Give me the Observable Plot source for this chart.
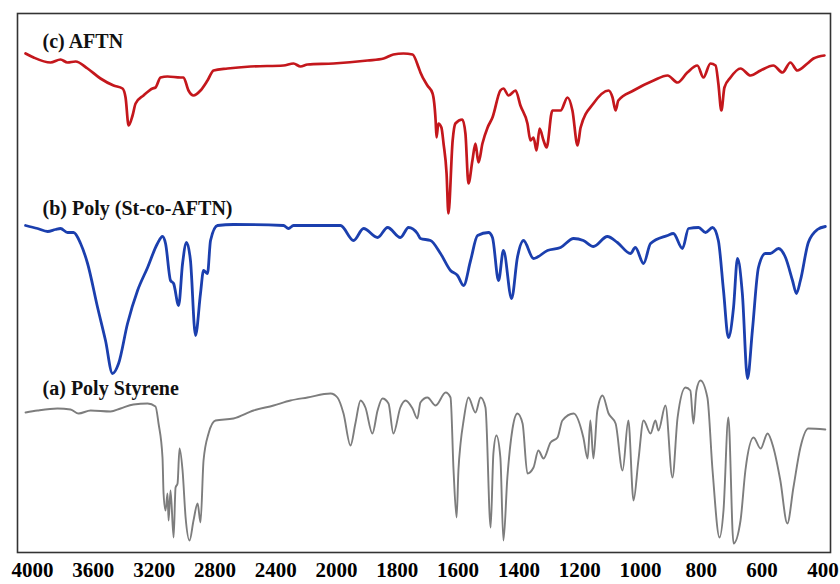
<!DOCTYPE html>
<html>
<head>
<meta charset="utf-8">
<script src="https://cdn.jsdelivr.net/npm/d3@7"></script>
<script src="https://cdn.jsdelivr.net/npm/@observablehq/plot@0.6"></script>
<style>
  html, body { margin: 0; padding: 0; background: #fff; }
  #chart svg { display: block; }
</style>
</head>
<body>
<div id="chart"></div>
<script>
// Tick labels (wavenumber, cm-1) – axis scale doubles below 2000
const xTicks = [4000, 3600, 3200, 2800, 2400, 2000, 1800, 1600, 1400, 1200, 1000, 800, 600, 400];
const seriesNames = ["(c) AFTN", "(b) Poly (St-co-AFTN)", "(a) Poly Styrene"];

// (c) AFTN – stacked transmittance (arbitrary units)
const wnC = [4046,3993,3882,3816,3770,3717,3638,3553,3467,3408,3388,3368,3342,3322,3270,3211,3191,3158,3112,3026,3007,2974,2941,2895,2849,2809,2717,2566,2349,2283,2237,2191,2020,
  1898,1845,1813,1780,1750,1730,1724,1701,1684,1674,1671,1665,1655,1648,1638,1632,1618,1609,1586,1576,1566,1553,1543,1533,1520,1503,1487,1461,1451,1434,1411,1395,1372,1362,1352,1342,1332,1319,1309,1290,1263,1240,1224,1207,1197,1155,1105,1092,1082,1073,1023,957,911,878,846,813,793,770,753,744,734,724,704,671,638,605,563,533,507,484,451,431,395];
const tC = [99.8,99.0,98.0,98.6,98.0,98.2,96.8,94.8,93.4,92.8,91.0,85.4,87.4,89.8,91.4,92.8,93.0,95.0,95.2,95.0,95.0,92.4,91.4,92.4,94.4,96.4,96.8,97.2,97.4,97.8,97.2,97.6,97.8,
  98.4,98.8,99.6,99.8,99.6,97.0,96.0,93.4,91.8,86.4,83.0,85.8,85.0,81.8,75.8,67.8,82.4,85.8,86.6,83.8,73.8,78.4,81.8,78.0,81.8,85.0,87.0,92.4,92.8,91.4,92.4,89.4,85.8,82.4,83.0,80.4,84.8,82.4,81.0,88.4,88.4,91.0,88.4,81.4,85.0,89.8,92.4,91.0,88.4,90.4,92.4,94.4,95.4,94.0,96.0,97.4,95.0,97.8,97.4,93.8,88.4,93.0,95.0,96.8,95.4,96.4,97.4,96.0,98.0,96.4,97.8,98.8,99.4];

// (b) Poly (St-co-AFTN)
const wnB = [4046,3967,3901,3849,3816,3770,3730,3684,3638,3572,3520,3474,3434,3375,3309,3243,3178,3145,3125,3092,3072,3039,3013,2987,2961,2928,2895,2875,2849,2829,2783,2678,2349,2316,2283,
  1987,1944,1911,1865,1832,1790,1763,1734,1724,1691,1658,1625,1602,1582,1559,1536,1500,1487,1467,1451,1424,1405,1385,1352,1306,1263,1220,1188,1155,1109,1076,1033,1017,990,967,911,892,862,842,809,786,763,744,727,711,694,681,665,648,632,612,589,573,546,523,500,487,474,448,418,392];
const tB = [65.4,64.8,64.2,64.6,64.8,64.0,64.0,61.8,57.8,49.0,42.4,35.8,37.8,45.8,52.4,57.0,61.8,63.2,61.8,54.4,53.8,49.4,57.8,62.0,58.4,43.4,51.8,56.4,55.8,62.4,65.4,65.6,65.4,64.8,65.4,
  65.4,62.4,64.8,63.0,65.0,63.0,65.0,63.8,62.8,62.4,59.8,56.4,55.4,53.4,58.4,63.4,64.0,63.0,54.4,60.4,50.8,59.0,62.4,58.8,60.4,61.0,62.8,62.4,61.2,63.2,62.0,59.8,61.0,57.8,61.8,63.4,63.8,60.8,64.8,65.0,64.0,65.0,62.4,52.4,43.0,49.0,58.8,51.8,34.8,44.4,57.0,59.8,59.8,60.8,59.0,54.4,51.8,54.4,62.0,64.6,65.2];

// (a) Poly Styrene
const wnA = [4046,3967,3836,3750,3697,3618,3487,3421,3336,3243,3191,3171,3145,3138,3125,3112,3105,3092,3072,3059,3046,3033,3013,2993,2967,2941,2914,2895,2875,2842,2796,2678,2546,2414,2303,2191,2039,
  1997,1977,1954,1938,1921,1905,1882,1865,1849,1829,1813,1790,1773,1750,1734,1724,1701,1674,1641,1625,1615,1605,1599,1592,1582,1566,1543,1526,1510,1493,1484,1474,1461,1451,1438,1421,1405,1388,1372,1352,1336,1319,1296,1273,1257,1220,1188,1174,1165,1155,1142,1125,1105,1082,1059,1040,1023,1007,990,967,951,941,918,895,878,852,836,826,816,803,780,763,740,727,711,694,671,655,628,605,582,563,540,517,497,474,448,392];
const tA = [28.0,28.4,28.8,28.6,27.8,28.4,28.2,28.8,29.6,29.8,29.2,25.8,19.0,11.8,8.4,11.8,6.4,12.4,3.0,13.0,13.8,20.8,16.4,7.0,2.4,6.4,9.8,6.0,18.4,23.8,26.4,26.8,28.4,29.4,30.4,31.0,31.8,
  31.0,27.8,21.4,25.8,30.4,29.0,23.8,28.4,30.8,29.8,23.8,29.0,30.4,28.8,26.8,30.0,31.0,29.4,32.0,31.0,16.4,7.0,16.4,21.8,26.4,31.0,28.0,31.0,29.0,5.0,19.8,23.4,19.0,2.4,15.0,24.8,27.8,25.8,15.8,17.0,20.4,18.8,22.0,23.0,26.4,27.8,23.0,18.8,26.4,18.8,28.4,31.4,27.8,25.8,16.4,26.4,10.4,18.4,26.4,23.8,26.4,24.4,29.4,15.0,27.0,33.0,32.4,25.8,32.4,34.4,31.0,16.4,3.0,8.4,27.0,1.8,6.4,16.4,23.0,20.8,23.8,21.0,14.4,5.8,13.0,21.0,24.8,24.6];

// Axis break: below 2000 cm-1 each unit is drawn twice as wide
const warp = w => (w >= 2000 ? w : 2 * w - 2000);
const unwarp = p => Math.round(p >= 2000 ? p : (p + 2000) / 2);

const toRows = (wn, t) => wn.map((w, i) => ({wn: w, t: t[i]}));
const rowsC = toRows(wnC, tC), rowsB = toRows(wnB, tB), rowsA = toRows(wnA, tA);

const lbl = (rows, name, dy) => Plot.text([rows[0]], {
  x: d => warp(d.wn), y: "t", text: () => name, textAnchor: "start", dx: 17, dy,
  fontSize: 20, fontWeight: "bold", fill: "#111"
});
const line = (rows, stroke, strokeWidth) => Plot.line(rows, {
  x: d => warp(d.wn), y: "t", stroke, strokeWidth, curve: "monotone-x"
});

const chart = Plot.plot({
  width: 840,
  height: 584,
  marginLeft: 17,
  marginRight: 10,
  marginTop: 13,
  marginBottom: 32,
  style: {fontFamily: "'Liberation Serif', 'Times New Roman', serif", background: "#fff"},
  x: {domain: [warp(4099), warp(375)]},
  y: {domain: [0, 107.8], axis: null},
  marks: [
    line(rowsA, "#7d7d7d", 1.9),
    line(rowsB, "#1b3fae", 2.8),
    line(rowsC, "#c4171c", 2.7),
    lbl(rowsC, seriesNames[0], -12),
    lbl(rowsB, seriesNames[1], -17),
    lbl(rowsA, seriesNames[2], -24),
    Plot.frame({stroke: "#333", strokeWidth: 1.6}),
    Plot.axisX({ticks: xTicks.map(warp), tickSize: 0, tickPadding: 10, tickFormat: p => String(unwarp(p)),
      fontSize: 21, fontWeight: "bold", fill: "#000", label: null})
  ]
});
document.getElementById("chart").appendChild(chart);
</script>
</body>
</html>
